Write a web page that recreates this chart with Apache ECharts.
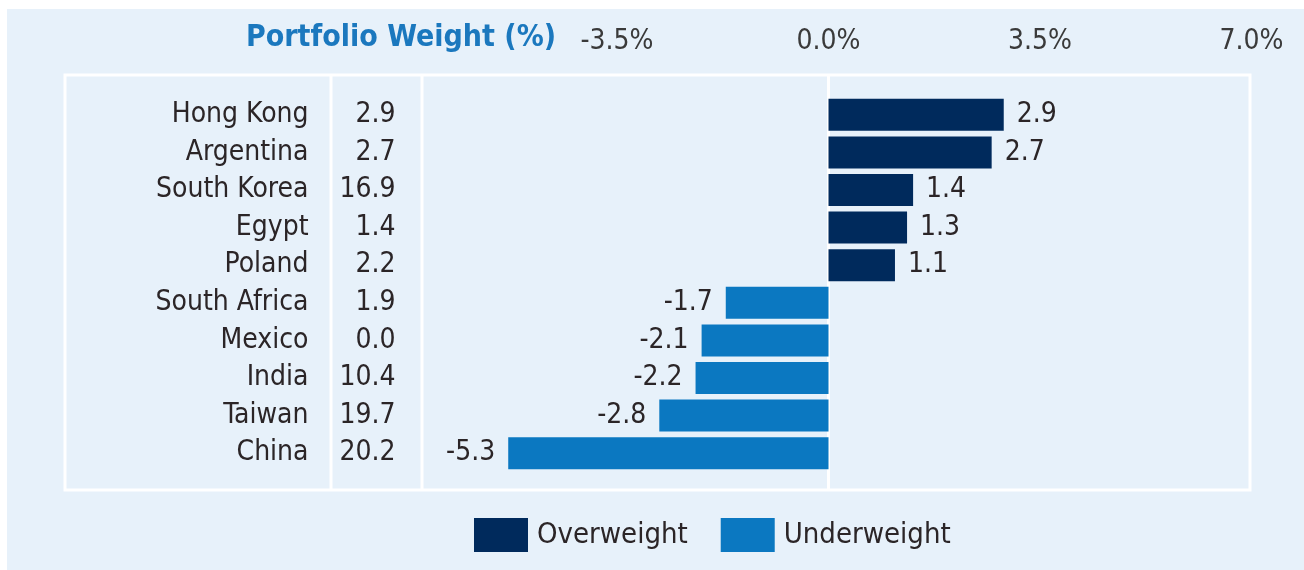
<!DOCTYPE html>
<html>
<head>
<meta charset="utf-8">
<script src="https://cdn.jsdelivr.net/npm/echarts@6/dist/echarts.min.js"></script>
<style>
  html, body { margin: 0; padding: 0; background: #fff; }
  #chart { width: 1304px; height: 570px; }
</style>
</head>
<body>
<div id="chart"></div>
<script>
const countries = ["Hong Kong", "Argentina", "South Korea", "Egypt", "Poland",
  "South Africa", "Mexico", "India", "Taiwan", "China"];
const portfolioWeight = [2.9, 2.7, 16.9, 1.4, 2.2, 1.9, 0.0, 10.4, 19.7, 20.2];
const relativeWeight = [2.9, 2.7, 1.4, 1.3, 1.1, -1.7, -2.1, -2.2, -2.8, -5.3];
const axisMin = -7, axisMax = 7, axisStep = 3.5;

const font = '"DejaVu Sans Condensed", "Liberation Sans Narrow", sans-serif';
const textColor = "#2b2527";
const navy = "#002a5c";
const blue = "#0b78c1";

let myChart = echarts.init(document.getElementById("chart"));

const over = relativeWeight.map(v => (v > 0 ? v : "-"));
const under = relativeWeight.map(v => (v < 0 ? v : "-"));

const valLabel = pos => ({
  show: true,
  position: pos,
  distance: 13,
  color: textColor,
  fontFamily: font,
  fontSize: 28,
  formatter: p => Number(p.value).toFixed(1)
});

let option = {
  backgroundColor: "#e7f1fa",
  animation: false,
  title: {
    text: "Portfolio Weight (%)",
    right: 1304 - 556,
    top: 23,
    padding: 0,
    textStyle: { color: "#1b78be", fontFamily: font, fontWeight: "bold", fontSize: 30 }
  },
  legend: {
    data: ["Overweight", "Underweight"],
    icon: "rect",
    left: 474,
    top: 518,
    padding: 0,
    itemWidth: 54,
    itemHeight: 34,
    itemGap: 33,
    textStyle: { color: textColor, fontFamily: font, fontSize: 29, padding: [0, 0, 0, 4] }
  },
  grid: { left: 405.5, right: 52.5, top: 96, bottom: 98, containLabel: false },
  xAxis: {
    type: "value",
    position: "top",
    min: axisMin,
    max: axisMax,
    interval: axisStep,
    axisLine: { show: false },
    axisTick: { show: false },
    splitLine: { show: false },
    axisLabel: {
      margin: 40,
      color: "#3a3a3a",
      fontFamily: font,
      fontSize: 28,
      formatter: v => (v <= axisMin ? "" : v.toFixed(1) + "%")
    }
  },
  yAxis: [
    {
      type: "category",
      data: countries,
      inverse: true,
      axisLine: { show: false },
      axisTick: { show: false },
      axisLabel: { interval: 0, margin: 97, color: textColor, fontFamily: font, fontSize: 28 }
    },
    {
      type: "category",
      data: portfolioWeight.map(v => v.toFixed(1)),
      inverse: true,
      position: "left",
      axisLine: { show: false },
      axisTick: { show: false },
      axisLabel: { interval: 0, margin: 10, color: textColor, fontFamily: font, fontSize: 28 }
    }
  ],
  series: [
    {
      name: "Overweight",
      type: "bar",
      stack: "w",
      barWidth: 32,
      itemStyle: { color: navy },
      label: valLabel("right"),
      data: over
    },
    {
      name: "Underweight",
      type: "bar",
      stack: "w",
      barWidth: 32,
      itemStyle: { color: blue },
      label: valLabel("left"),
      data: under
    }
  ]
};
myChart.setOption(option);

// frame lines drawn over the panel, zero line follows the axis
const x0 = myChart.convertToPixel({ xAxisIndex: 0 }, 0);
const line = (x1, y1, x2, y2) => ({
  type: "line",
  z: -1,
  shape: { x1, y1, x2, y2 },
  style: { stroke: "#ffffff", lineWidth: 3 }
});
myChart.setOption({
  graphic: [
    { type: "rect", z: -2, shape: { x: 0, y: 0, width: 1304, height: 9 }, style: { fill: "#fff" } },
    { type: "rect", z: -2, shape: { x: 0, y: 0, width: 7, height: 570 }, style: { fill: "#fff" } },
    { type: "rect", z: -1, shape: { x: 65, y: 75, width: 1185, height: 415 }, style: { fill: "none", stroke: "#fff", lineWidth: 3 } },
    line(331, 75, 331, 490),
    line(422, 75, 422, 490),
    line(x0, 75, x0, 490)
  ]
});
window.addEventListener("resize", () => myChart.resize(), false);
</script>
</body>
</html>
